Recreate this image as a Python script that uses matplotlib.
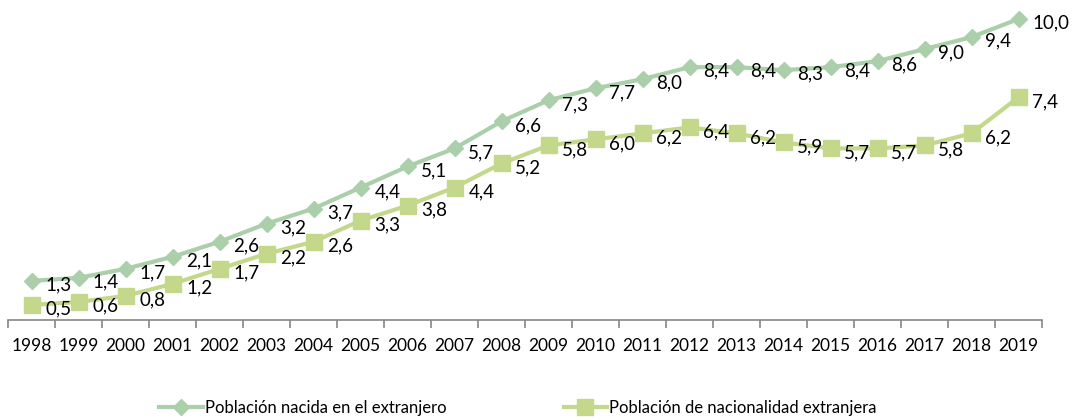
import matplotlib
matplotlib.use("Agg")
import matplotlib.pyplot as plt
import numpy as np

years = [str(y) for y in range(1998, 2020)]
nacida = [1.3, 1.4, 1.7, 2.1, 2.6, 3.2, 3.7, 4.4, 5.1, 5.7, 6.6, 7.3, 7.7, 8.0, 8.4, 8.4, 8.3, 8.4, 8.6, 9.0, 9.4, 10.0]
nacionalidad = [0.5, 0.6, 0.8, 1.2, 1.7, 2.2, 2.6, 3.3, 3.8, 4.4, 5.2, 5.8, 6.0, 6.2, 6.4, 6.2, 5.9, 5.7, 5.7, 5.8, 6.2, 7.4]
labels = ["Población nacida en el extranjero", "Población de nacionalidad extranjera"]

c1 = "#AACFAA"
c2 = "#C4D88C"

plt.rcParams['font.family'] = ['Lato', 'DejaVu Sans']

fig = plt.figure(figsize=(10.75, 4.2), dpi=100)
W, H = 1075, 420
ax = fig.add_axes([8 / W, 1 - 320 / H, 1034 / W, 301 / H])

x = np.arange(len(years))
l1, = ax.plot(x, nacida, color=c1, lw=3, marker="D", ms=8, mec=c1, mfc=c1, clip_on=False, zorder=3)
l2, = ax.plot(x, nacionalidad, color=c2, lw=3, marker="s", ms=11.5, mec=c2, mfc=c2, clip_on=False, zorder=3)

def fmt(v):
    return f"{v:.1f}".replace(".", ",")

for xi, v in zip(x, nacida):
    ax.annotate(fmt(v), (xi, v), xytext=(10, -3), textcoords="offset points",
                ha="left", va="center", fontsize=13.5, color="#000000")
for xi, v in zip(x, nacionalidad):
    ax.annotate(fmt(v), (xi, v), xytext=(10, -3), textcoords="offset points",
                ha="left", va="center", fontsize=13.5, color="#000000")

ax.set_xlim(-0.5, len(years) - 0.5)
ax.set_ylim(0, 10)
ax.set_yticks([])
for s in ["top", "right", "left"]:
    ax.spines[s].set_visible(False)
ax.spines["bottom"].set_color("#868686")
ax.spines["bottom"].set_linewidth(1.2)

ax.set_xticks(np.arange(-0.5, len(years), 1.0), minor=False)
ax.set_xticklabels([])
ax.tick_params(axis="x", which="major", direction="out", length=6, color="#868686", width=1.2)
ax.set_xticks(x, minor=True)
ax.set_xticklabels(years, minor=True, fontsize=12.5)
ax.tick_params(axis="x", which="minor", length=0, pad=13)

leg = fig.legend([l1, l2], labels, loc="center", bbox_to_anchor=(0.482, 1 - 408 / H), ncol=2,
                 frameon=False, fontsize=12, handlelength=2.6, columnspacing=7.0,
                 handletextpad=0.15)

fig.savefig("out.png", dpi=100)
